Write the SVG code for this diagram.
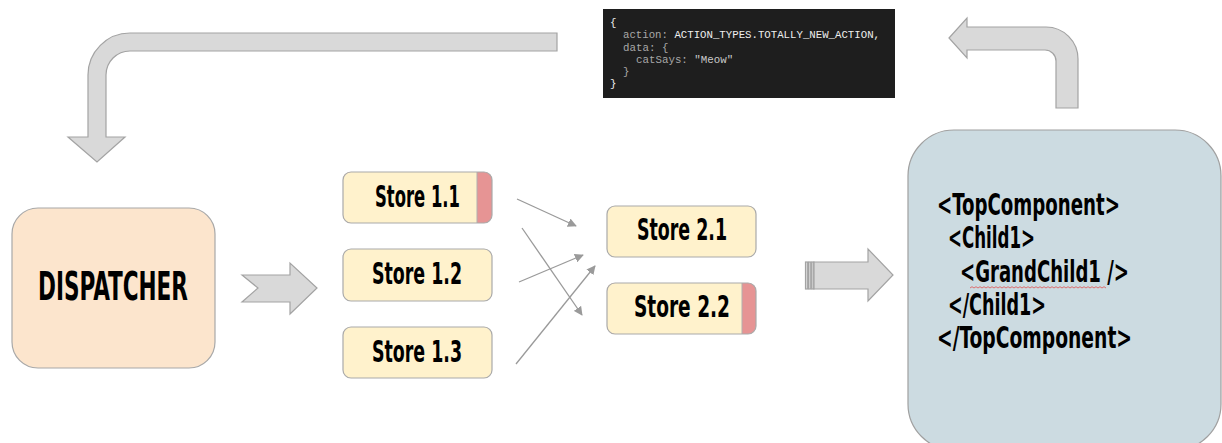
<svg xmlns="http://www.w3.org/2000/svg" width="1222" height="443" viewBox="0 0 1222 443">
<style>
.bg{fill:#ffffff}
.big{fill:#d9d9d9;stroke:#a3a3a3;stroke-width:1.2}
.lbl{font-family:"Liberation Sans Narrow","DejaVu Sans Condensed","Liberation Sans",sans-serif;font-weight:bold;fill:#000;font-size:30px}
.store{fill:#fff2cc;stroke:#aaaaaa;stroke-width:1.2}
.strip{fill:#e69494}
.edge{fill:none;stroke:#9a9a9a;stroke-width:1.3}
.code{font-family:"Liberation Mono","DejaVu Sans Mono",monospace;font-size:10.8px}
.k{fill:#a8a8a8}
.w{fill:#eeeeee}
.s{fill:#c9c9c9}
</style>
<defs>
<marker id="ah" viewBox="0 0 10 10" refX="9" refY="5" markerWidth="9" markerHeight="9" markerUnits="userSpaceOnUse" orient="auto">
<path d="M0,0 L10,5 L0,10 Z" fill="#9a9a9a"/>
</marker>
</defs>
<rect class="bg" x="0" y="0" width="1222" height="443"/>

<g id="code-box">
<rect x="603" y="9" width="292" height="89" fill="#1e1e1e"/>
<text class="code w" x="610" y="26">{</text>
<text class="code" x="623" y="38" textLength="257" lengthAdjust="spacingAndGlyphs"><tspan class="k">action: </tspan><tspan class="w">ACTION_TYPES.TOTALLY_NEW_ACTION,</tspan></text>
<text class="code k" x="623" y="50.5">data: {</text>
<text class="code" x="636" y="62.5"><tspan class="k">catSays: </tspan><tspan class="s">"Meow"</tspan></text>
<text class="code k" x="623" y="75">}</text>
<text class="code w" x="610" y="87">}</text>
</g>

<g id="connectors">
<path id="return-arrow" class="big" d="M557,33 L130,33 A42,42 0 0 0 88,75 L88,137 L68,137 L97,162 L125,137 L106,137 L106,75 A24,24 0 0 1 130,51 L557,51 Z"/>
<path id="action-arrow" class="big" d="M949,38 L967,18 L967,27 L1046,27 A32,32 0 0 1 1078,59 L1078,108 L1056,108 L1056,61 A11,11 0 0 0 1045,50 L967,50 L967,58 Z"/>
<path id="dispatch-arrow" class="big" d="M242,275 L258,288 L242,302 L290,302 L290,314 L317,288 L290,263 L290,275 Z"/>
<g id="render-arrow">
<rect class="big" x="805.5" y="262" width="2.2" height="27"/>
<rect class="big" x="808.6" y="262" width="2.2" height="27"/>
<rect class="big" x="811.7" y="262" width="2.2" height="27"/>
<path class="big" d="M814,262 L868,262 L868,249 L893,275 L868,301 L868,289 L814,289 Z"/>
</g>
<line class="edge" x1="517" y1="199" x2="576" y2="226" marker-end="url(#ah)"/>
<line class="edge" x1="522" y1="228" x2="582" y2="315" marker-end="url(#ah)"/>
<line class="edge" x1="519" y1="282" x2="583" y2="255" marker-end="url(#ah)"/>
<line class="edge" x1="516" y1="364" x2="595" y2="266" marker-end="url(#ah)"/>
</g>

<g id="dispatcher">
<rect x="12" y="208" width="203" height="160" rx="26" fill="#fce5cd" stroke="#a8a8a8" stroke-width="1.2"/>
<text class="lbl" x="38" y="300" textLength="150" lengthAdjust="spacingAndGlyphs" style="font-size:39px">DISPATCHER</text>
</g>

<g id="store-1-1">
<rect class="strip" x="343" y="172" width="149" height="51" rx="8"/>
<path fill="#fff2cc" d="M351,172 H477 V223 H351 A8,8 0 0 1 343,215 V180 A8,8 0 0 1 351,172 Z"/>
<line x1="477" y1="172" x2="477" y2="223" stroke="#b0b0b0" stroke-width="1"/>
<rect x="343" y="172" width="149" height="51" rx="8" fill="none" stroke="#aaaaaa" stroke-width="1.2"/>
<text class="lbl" x="375" y="207" textLength="85" lengthAdjust="spacingAndGlyphs">Store 1.1</text>
</g>

<g id="store-1-2">
<rect class="store" x="343" y="249" width="149" height="52" rx="8"/>
<text class="lbl" x="372" y="284" textLength="90" lengthAdjust="spacingAndGlyphs">Store 1.2</text>
</g>

<g id="store-1-3">
<rect class="store" x="343" y="327" width="149" height="51" rx="8"/>
<text class="lbl" x="372" y="362" textLength="90" lengthAdjust="spacingAndGlyphs">Store 1.3</text>
</g>

<g id="store-2-1">
<rect class="store" x="607" y="206" width="149" height="51" rx="8"/>
<text class="lbl" x="637" y="240" textLength="90" lengthAdjust="spacingAndGlyphs">Store 2.1</text>
</g>

<g id="store-2-2">
<rect class="strip" x="607" y="283" width="149" height="51" rx="8"/>
<path fill="#fff2cc" d="M615,283 H742 V334 H615 A8,8 0 0 1 607,326 V291 A8,8 0 0 1 615,283 Z"/>
<line x1="742" y1="283" x2="742" y2="334" stroke="#b0b0b0" stroke-width="1"/>
<rect x="607" y="283" width="149" height="51" rx="8" fill="none" stroke="#aaaaaa" stroke-width="1.2"/>
<text class="lbl" x="634" y="317" textLength="96" lengthAdjust="spacingAndGlyphs">Store 2.2</text>
</g>

<g id="component-tree">
<rect x="908" y="130" width="313" height="320" rx="46" fill="#ccdbe1" stroke="#a0a0a0" stroke-width="1.2"/>
<text class="lbl" x="937" y="215" textLength="183" lengthAdjust="spacingAndGlyphs">&lt;TopComponent&gt;</text>
<text class="lbl" x="948" y="248" textLength="87" lengthAdjust="spacingAndGlyphs">&lt;Child1&gt;</text>
<text class="lbl" x="960" y="282" textLength="169" lengthAdjust="spacingAndGlyphs">&lt;GrandChild1 /&gt;</text>
<path d="M970,288 l2,-1.3 l2,1.3 l2,-1.3 l2,1.3 l2,-1.3 l2,1.3 l2,-1.3 l2,1.3 l2,-1.3 l2,1.3 l2,-1.3 l2,1.3 l2,-1.3 l2,1.3 l2,-1.3 l2,1.3 l2,-1.3 l2,1.3 l2,-1.3 l2,1.3 l2,-1.3 l2,1.3 l2,-1.3 l2,1.3 l2,-1.3 l2,1.3 l2,-1.3 l2,1.3 l2,-1.3 l2,1.3 l2,-1.3 l2,1.3 l2,-1.3 l2,1.3 l2,-1.3 l2,1.3 l2,-1.3 l2,1.3 l2,-1.3 l2,1.3 l2,-1.3 l2,1.3 l2,-1.3 l2,1.3 l2,-1.3 l2,1.3 l2,-1.3 l2,1.3 l2,-1.3 l2,1.3 l2,-1.3 l2,1.3 l2,-1.3 l2,1.3 l2,-1.3 l2,1.3 l2,-1.3 l2,1.3 l2,-1.3 l2,1.3 l2,-1.3 l2,1.3 l2,-1.3 l2,1.3 l2,-1.3 l2,1.3 l2,-1.3 l2,1.3" fill="none" stroke="#e05050" stroke-width="0.8"/>
<text class="lbl" x="948" y="315" textLength="98" lengthAdjust="spacingAndGlyphs">&lt;/Child1&gt;</text>
<text class="lbl" x="937" y="348" textLength="195" lengthAdjust="spacingAndGlyphs">&lt;/TopComponent&gt;</text>
</g>
</svg>
